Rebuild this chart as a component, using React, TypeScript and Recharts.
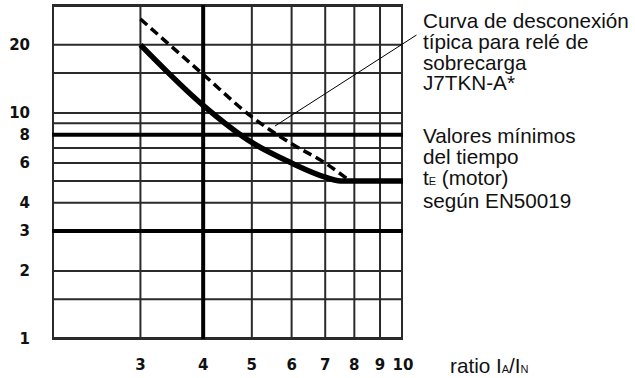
import { LineChart, Line, XAxis, YAxis, ReferenceLine, CartesianGrid } from 'recharts';

// current ratio I_A / I_N (log axis); grid at every value, label on 3..10
const ratioGrid = [3, 5, 6, 7, 8, 9];
const ratioLabels = [3, 4, 5, 6, 7, 8, 9, 10];
const ratioHeavy = [4];
const ratioDomain = [2, 10];

// tripping time (log axis)
const timeGrid = [1, 1.5, 2, 3, 4, 5, 6, 7, 8, 9, 10, 15, 20, 30];
const timeLabels = [1, 2, 3, 4, 6, 8, 10, 20];
const timeHeavy = [3, 8];
const timeDomain = [1, 30];

// typical J7TKN-A* trip curve
const relayRatio = [3, 4, 5, 6, 7, 7.5, 10];
const relayTime = [20, 10.8, 7.4, 6.0, 5.2, 5, 5];

// minimum motor time t_E per EN50019
const minRatio = [3, 4, 5, 6, 7, 7.75];
const minTime = [26, 14.8, 9.6, 7.3, 6.0, 5.1];

const relayData = relayRatio.map((r, i) => ({ r, t: relayTime[i] }));
const minData = minRatio.map((r, i) => ({ r, t: minTime[i] }));

// rules spanning the plot, drawn as two-point series
const vRule = (r: number) => timeDomain.map(t => ({ r, t }));
const hRule = (t: number) => ratioDomain.map(r => ({ r, t }));

const GRID = '#2a2a2a';
const tickFont = { fontFamily: 'DejaVu Sans', fontWeight: 700, fontSize: 15, fill: '#111' };

const YTick = ({ x, y, payload }: any) =>
  timeLabels.includes(payload.value) ? (
    <text x={x} y={y} textAnchor="end" dominantBaseline="central" {...tickFont}>
      {payload.value}
    </text>
  ) : (
    <g />
  );

const XTick = ({ x, y, payload }: any) =>
  ratioLabels.includes(payload.value) ? (
    <text x={x} y={y} textAnchor="middle" dominantBaseline="central" {...tickFont}>
      {payload.value}
    </text>
  ) : (
    <g />
  );

const note: React.CSSProperties = {
  position: 'absolute',
  left: 423,
  fontFamily: '"Liberation Sans", Arial, sans-serif',
  fontSize: 20.7,
  lineHeight: '20.8px',
  color: '#111',
  whiteSpace: 'nowrap',
};

const small: React.CSSProperties = { fontSize: 11 };

const rule = (key: string, data: { r: number; t: number }[], width: number, color = GRID) => (
  <Line
    key={key}
    data={data}
    dataKey="t"
    type="linear"
    stroke={color}
    strokeWidth={width}
    dot={false}
    activeDot={false}
    legendType="none"
    isAnimationActive={false}
  />
);

export default function App() {
  return (
    <div style={{ position: 'absolute', left: 0, top: 0, width: 635, height: 378, background: '#fff' }}>
      <LineChart width={635} height={378} margin={{ top: 5, right: 232, bottom: 0, left: 0 }}>
        <CartesianGrid stroke={GRID} strokeWidth={2} vertical={false} />
        <XAxis
          dataKey="r"
          type="number"
          scale="log"
          domain={ratioDomain}
          allowDataOverflow
          ticks={[ratioDomain[0], ...ratioLabels]}
          interval={0}
          tick={<XTick />}
          tickSize={0}
          tickMargin={26}
          axisLine={false}
          height={39}
        />
        <YAxis
          dataKey="t"
          type="number"
          scale="log"
          domain={timeDomain}
          allowDataOverflow
          ticks={timeGrid}
          interval={0}
          tick={<YTick />}
          tickSize={0}
          tickMargin={22}
          axisLine={false}
          width={52}
        />

        {ratioGrid.map(v => rule('v' + v, vRule(v), 2))}
        {/* frame: clipped to the plot, so half of the stroke shows */}
        {ratioDomain.map(v => rule('fx' + v, vRule(v), 4))}
        {timeDomain.map(v => rule('fy' + v, hRule(v), 4))}
        {timeHeavy.map(v => rule('H' + v, hRule(v), 4, '#000'))}
        {ratioHeavy.map(v => rule('V' + v, vRule(v), 4, '#000'))}

        <Line
          data={minData}
          dataKey="t"
          type="monotone"
          stroke="#000"
          strokeWidth={3.5}
          strokeDasharray="9 5"
          dot={false}
          isAnimationActive={false}
        />
        <Line
          data={relayData}
          dataKey="t"
          type="monotone"
          stroke="#000"
          strokeWidth={5.5}
          dot={false}
          isAnimationActive={false}
        />

        {/* leader from the caption to the dashed curve */}
        <ReferenceLine
          segment={[{ x: 5.56, y: 8.75 }, { x: 10.64, y: 22.1 }]}
          stroke="#000"
          strokeWidth={1}
          ifOverflow="visible"
        />
      </LineChart>

      <div style={{ ...note, top: 11 }}>
        Curva de desconexión
        <br />
        típica para relé de
        <br />
        sobrecarga
        <br />
        J7TKN-A*
      </div>
      <div style={{ ...note, top: 126 }}>
        Valores mínimos
        <br />
        del tiempo
        <br />
        t<span style={small}>E</span> (motor)
        <br />
        según EN50019
      </div>
      <div style={{ ...note, left: 450, top: 356 }}>
        ratio I<span style={small}>A</span>/I<span style={small}>N</span>
      </div>
    </div>
  );
}
